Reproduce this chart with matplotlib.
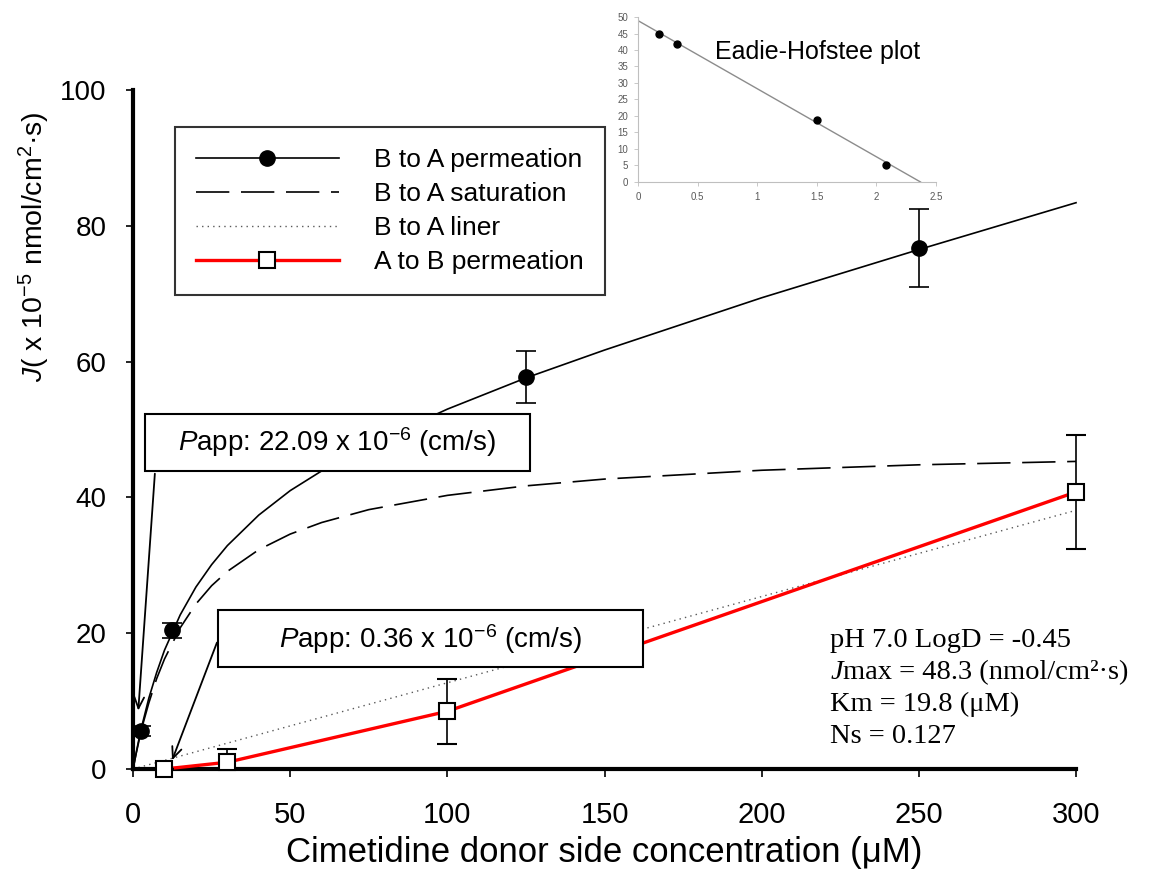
import matplotlib
matplotlib.use('Agg')
import matplotlib.pyplot as plt
from matplotlib.lines import Line2D
from matplotlib.patches import Rectangle

plt.rcParams['font.family'] = ['Liberation Sans', 'DejaVu Sans']
plt.rcParams['mathtext.fontset'] = 'custom'
plt.rcParams['mathtext.rm'] = 'Liberation Sans'
plt.rcParams['mathtext.it'] = 'Liberation Sans:italic'
plt.rcParams['mathtext.bf'] = 'Liberation Sans:bold'

# measured points
conc_ba = [2.5, 12.5, 125, 250]
j_ba = [5.6, 20.4, 57.7, 76.7]
err_ba = [0.8, 1.1, 3.8, 5.7]

conc_ab = [10, 30, 100, 300]
j_ab = [0.0, 1.0, 8.5, 40.8]
err_ab_low = [0.0, 1.0, 4.8, 8.4]
err_ab_high = [0.0, 1.9, 4.8, 8.4]

# fitted curves
fit_conc = [0, 1, 2, 3, 5, 7.5, 10, 15, 20, 25, 30, 40, 50, 60, 75, 100, 125, 150, 200, 250, 300]
fit_total = [0, 2.4, 4.7, 6.7, 10.4, 14.2, 17.5, 22.7, 26.8, 30.1, 32.9, 37.4, 41.0, 43.9, 47.7,
             53.0, 57.6, 61.7, 69.4, 76.5, 83.4]
fit_sat = [0, 2.3, 4.4, 6.4, 9.7, 13.3, 16.2, 20.8, 24.3, 27.0, 29.1, 32.3, 34.6, 36.3, 38.2,
           40.3, 41.7, 42.7, 44.0, 44.8, 45.3]
liner_conc = [0, 300]
liner_j = [0, 38.1]

# Eadie-Hofstee inset
eh_x = [0.18, 0.33, 1.50, 2.08]
eh_y = [44.8, 41.7, 18.8, 5.2]
eh_line_x = [0, 2.37]
eh_line_y = [48.9, 0]

fig = plt.figure(figsize=(11.59, 8.72), dpi=100)
ax = fig.add_axes([0.1148, 0.1181, 0.8136, 0.7787])

ax.plot(fit_conc, fit_total, color='black', lw=1.2, clip_on=False, zorder=3)
ax.plot(fit_conc, fit_sat, color='black', lw=1.2, dashes=(20, 7), zorder=3)
ax.plot(liner_conc, liner_j, color='0.35', lw=1.0, linestyle=(0, (1, 3)), zorder=2)
ax.plot(conc_ab, j_ab, color='red', lw=2.4, zorder=3, clip_on=False)

ax.errorbar(conc_ba, j_ba, yerr=err_ba, fmt='o', color='black', ms=11,
            ecolor='black', elinewidth=1.2, capsize=7, capthick=1.2, zorder=5, clip_on=False)
ax.errorbar(conc_ab, j_ab, yerr=[err_ab_low, err_ab_high], fmt='s', mfc='white', mec='black',
            mew=1.5, ms=11, ecolor='black', elinewidth=1.2, capsize=7, capthick=1.2,
            zorder=5, clip_on=False)

ax.set_xlim(0, 300)
ax.set_ylim(0, 100)
ax.set_xticks(range(0, 301, 50))
ax.set_yticks(range(0, 101, 20))
for s in ['top', 'right']:
    ax.spines[s].set_visible(False)
ax.spines['left'].set_linewidth(3)
ax.spines['bottom'].set_linewidth(3)
ax.tick_params(axis='x', direction='out', length=6, width=1.2, labelsize=21, pad=17)
ax.tick_params(axis='y', direction='out', length=5, width=1.2, labelsize=20, pad=14)
ax.set_xlabel('Cimetidine donor side concentration (μM)', fontsize=25, labelpad=5)
ax.set_ylabel('$J$( x 10$^{-5}$ nmol/cm$^{2}$·s)', fontsize=20.5)
ax.yaxis.set_label_coords(-0.086, 0.769)

# Papp boxes
ax.add_patch(Rectangle((3.8, 43.9), 122.5, 8.4, facecolor='white', edgecolor='black', lw=1.5, zorder=6))
ax.text(65, 48.1, '$P$app: 22.09 x 10$^{-6}$ (cm/s)', ha='center', va='center', fontsize=20, zorder=7)
ax.add_patch(Rectangle((27.0, 15.0), 135.2, 8.4, facecolor='white', edgecolor='black', lw=1.5, zorder=6))
ax.text(94.5, 19.2, '$P$app: 0.36 x 10$^{-6}$ (cm/s)', ha='center', va='center', fontsize=20, zorder=7)

ax.annotate('', xy=(1.6, 8.2), xytext=(7.0, 43.9),
            arrowprops=dict(arrowstyle='->,head_length=0.8,head_width=0.35', color='black', lw=1.3), zorder=4)
ax.annotate('', xy=(12.1, 0.9), xytext=(27.0, 19.0),
            arrowprops=dict(arrowstyle='->,head_length=0.8,head_width=0.35', color='black', lw=1.3), zorder=4)

# fit parameters
serif = dict(fontfamily='Liberation Serif', fontsize=20.5)
ax.text(221.8, 18.0, 'pH 7.0 LogD = -0.45', va='baseline', **serif)
jt = ax.text(221.8, 13.25, 'J', fontstyle='italic', va='baseline', **serif)
ax.annotate('max = 48.3 (nmol/cm²·s)', xy=(1, 0), xycoords=jt, va='bottom', **serif)
ax.text(221.8, 8.5, 'Km = 19.8 (μM)', va='baseline', **serif)
ax.text(221.8, 3.9, 'Ns = 0.127', va='baseline', **serif)

handles = [
    Line2D([], [], color='black', lw=1.2, marker='o', ms=11),
    Line2D([], [], color='black', lw=1.2, dashes=(20, 7)),
    Line2D([], [], color='0.35', lw=1.0, linestyle=(0, (1, 3))),
    Line2D([], [], color='red', lw=2.4, marker='s', ms=11, mfc='white', mec='black', mew=1.5),
]
labels = ['B to A permeation', 'B to A saturation', 'B to A liner', 'A to B permeation']
leg = fig.legend(handles, labels, loc='upper left', bbox_to_anchor=(175 / 1159, 1 - 127 / 872),
                 fontsize=19, frameon=True, fancybox=False, edgecolor='black',
                 handlelength=5.4, handletextpad=1.36, labelspacing=0.38, borderpad=0.8,
                 borderaxespad=0)
leg.get_frame().set_linewidth(1.5)

# inset
ins = fig.add_axes([0.5505, 0.7913, 0.2571, 0.1892])
ins.plot(eh_line_x, eh_line_y, color='0.55', lw=1.0)
ins.plot(eh_x, eh_y, 'o', color='black', ms=5)
ins.set_xlim(0, 2.5)
ins.set_ylim(0, 50)
ins.set_xticks([0, 0.5, 1, 1.5, 2, 2.5])
ins.set_xticklabels(['0', '0.5', '1', '1.5', '2', '2.5'])
ins.set_yticks(range(0, 51, 5))
for s in ['top', 'right']:
    ins.spines[s].set_visible(False)
for s in ['left', 'bottom']:
    ins.spines[s].set_color('0.75')
    ins.spines[s].set_linewidth(0.8)
ins.tick_params(colors='0.35', labelsize=7, length=3, width=0.6, pad=4)
ins.tick_params(axis='both', color='0.75')
ins.text(1.51, 39.4, 'Eadie-Hofstee plot', ha='center', va='center', fontsize=18)

plt.savefig('out.png', dpi=100)
